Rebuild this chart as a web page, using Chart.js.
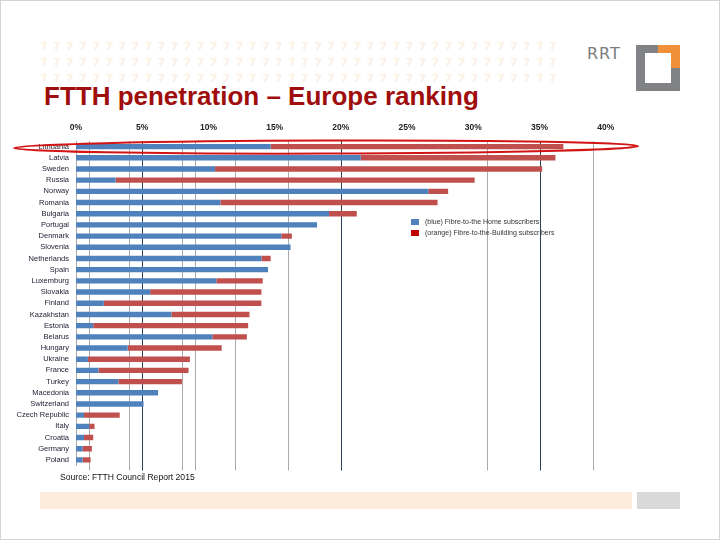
<!DOCTYPE html>
<html>
<head>
<meta charset="utf-8">
<script src="https://cdn.jsdelivr.net/npm/chart.js@4.4.1/dist/chart.umd.min.js"></script>
<style>
    html, body { margin: 0; padding: 0; }
    body { width: 720px; height: 540px; position: relative; background: #fff; overflow: hidden; font-family: "Liberation Sans", Arial, sans-serif; }
    #frame { position: absolute; left: 0; top: 0; width: 718px; height: 538px; border: 1px solid #d4d4d4; }
    .dots { position: absolute; left: 40px; font: bold 11px "DejaVu Sans", sans-serif; color: #fdf0e4; letter-spacing: 5.4px; white-space: nowrap; }
    #title { position: absolute; left: 44px; top: 81px; font: bold 26px "Liberation Sans Narrow", sans-serif; color: #a00d0d; white-space: nowrap; }
    #rrt { position: absolute; left: 587px; top: 44px; font: 16px "DejaVu Sans", sans-serif; color: #7b7d80; letter-spacing: 1px; }
    #logo { position: absolute; left: 636px; top: 45px; width: 44px; height: 46px; background: #808285; }
    #logo .or1 { position: absolute; left: 22px; top: 0; width: 22px; height: 23px; background: #f0913a; }
    #logo .in { position: absolute; left: 9px; top: 8px; width: 26px; height: 30px; background: #fff; }
    #wrap { position: absolute; left: 0; top: 115px; width: 660px; height: 362px; }
    #legend { position: absolute; left: 411px; top: 216px; font: 7px "Liberation Sans", sans-serif; color: #333; }
    #legend div { height: 11px; line-height: 11px; white-space: nowrap; }
    #legend span { display: inline-block; width: 8px; height: 6px; margin-right: 6px; vertical-align: -0.5px; }
    #source { position: absolute; left: 60px; top: 472px; font: 8.6px "Liberation Sans", sans-serif; color: #111; }
    #barL { position: absolute; left: 40px; top: 492px; width: 592px; height: 17px; background: #fdebdb; }
    #barR { position: absolute; left: 637px; top: 492px; width: 43px; height: 17px; background: #d9d9d9; }
</style>
</head>
<body>
<div id="frame"></div>
<div class="dots" style="top:40px">7777777777777777777777777777777777777777</div>
<div class="dots" style="top:56px">7777777777777777777777777777777777777777</div>
<div class="dots" style="top:72px">7777777777777777777777777777777777777777</div>
<div id="title">FTTH penetration – Europe ranking</div>
<div id="rrt">RRT</div>
<div id="logo"><div class="or1"></div><div class="in"></div></div>

<div id="wrap"><canvas id="ftth"></canvas></div>
<div id="legend"></div>
<div id="source">Source: FTTH Council Report 2015</div>
<div id="barL"></div>
<div id="barR"></div>

<script>
    // data (percent of households)
    const countries = ['Lithuania', 'Latvia', 'Sweden', 'Russia', 'Norway', 'Romania', 'Bulgaria', 'Portugal', 'Denmark',
        'Slovenia', 'Netherlands', 'Spain', 'Luxemburg', 'Slovakia', 'Finland', 'Kazakhstan', 'Estonia', 'Belarus',
        'Hungary', 'Ukraine', 'France', 'Turkey', 'Macedonia', 'Switzerland', 'Czech Republic', 'Italy', 'Croatia',
        'Germany', 'Poland'];
    const ftthHome = [14.7, 21.5, 10.5, 3.0, 26.6, 10.9, 19.1, 18.2, 15.5, 16.2, 14.0, 14.5, 10.6, 5.6, 2.1, 7.2, 1.3,
        10.3, 3.9, 0.9, 1.7, 3.2, 6.2, 5.1, 0.6, 1.0, 0.6, 0.5, 0.5];
    const ftthBuilding = [22.1, 14.7, 24.7, 27.1, 1.5, 16.4, 2.1, 0, 0.8, 0, 0.7, 0, 3.5, 8.4, 11.9, 5.9, 11.7,
        2.6, 7.1, 7.7, 6.8, 4.8, 0, 0, 2.7, 0.4, 0.7, 0.7, 0.6];
    const seriesNames = ['(blue) Fibre-to-the Home subscribers', '(orange) Fibre-to-the-Building subscribers'];
    const tickValues = [0, 5, 10, 15, 20, 25, 30, 35, 40];
    const darkGrid = [5, 20, 35];
    const lightGrid = [1, 4, 8, 9, 12, 16, 31, 39];

    const blue = '#4f81bd';
    const red = '#c0504d';

    // legend as html, to sit inside the plot like the original
    const legend = document.getElementById('legend');
    [blue, '#c00000'].forEach(function (c, i) {
        const row = document.createElement('div');
        row.innerHTML = '<span style="background:' + c + '"></span>' + seriesNames[i];
        legend.appendChild(row);
    });

    // odd grid of the pasted picture, drawn through the x scale
    const gridLines = {
        id: 'gridLines',
        beforeDatasetsDraw(chart) {
            const ctx = chart.ctx, x = chart.scales.x, a = chart.chartArea;
            ctx.save();
            ctx.lineWidth = 1;
            lightGrid.concat(darkGrid).forEach(function (v) {
                const px = Math.round(x.getPixelForValue(v)) + 0.5;
                ctx.strokeStyle = darkGrid.includes(v) ? '#2a3f58' : '#aaaaaa';
                ctx.beginPath();
                ctx.moveTo(px, a.top);
                ctx.lineTo(px, a.bottom + 5);
                ctx.stroke();
            });
            ctx.restore();
        }
    };

    // the red hand-drawn ring round the first row
    const ring = {
        id: 'ring',
        afterDraw(chart) {
            const ctx = chart.ctx, y = chart.scales.y;
            const cy = y.getPixelForValue(0) + 0.5;
            ctx.save();
            ctx.strokeStyle = '#d21414';
            ctx.lineWidth = 2;
            ctx.beginPath();
            ctx.ellipse(326, cy, 312, 6.5, -0.003, 0, Math.PI * 2);
            ctx.stroke();
            ctx.restore();
        }
    };

    const config = {
        type: 'bar',
        data: {
            labels: countries,
            datasets: [{
                label: seriesNames[0],
                data: ftthHome,
                backgroundColor: blue,
                barPercentage: 0.48,
                categoryPercentage: 1
            }, {
                label: seriesNames[1],
                data: ftthBuilding,
                backgroundColor: red,
                barPercentage: 0.48,
                categoryPercentage: 1
            }]
        },
        options: {
            indexAxis: 'y',
            responsive: true,
            maintainAspectRatio: false,
            animation: false,
            layout: { padding: { left: 0, right: 41, top: 0, bottom: 10 } },
            plugins: {
                legend: { display: false },
                tooltip: { enabled: false }
            },
            scales: {
                x: {
                    position: 'top',
                    stacked: true,
                    min: 0,
                    max: 41,
                    afterBuildTicks: function (s) { s.ticks = tickValues.map(function (v) { return { value: v }; }); },
                    afterFit: function (s) { s.height = 26; },
                    grid: { display: false, drawTicks: false },
                    border: { display: false },
                    ticks: {
                        padding: 8,
                        color: '#222',
                        font: { family: 'Liberation Sans', size: 8.5, weight: 'bold' },
                        callback: function (v) { return v + '%'; }
                    }
                },
                y: {
                    stacked: true,
                    afterFit: function (s) { s.width = 76; },
                    grid: { display: false, drawTicks: false },
                    border: { display: true, color: '#a8a8a8', width: 1 },
                    ticks: {
                        padding: 7,
                        color: '#1c1c30',
                        autoSkip: false,
                        font: { family: 'Liberation Sans', size: 7.5 }
                    }
                }
            }
        },
        plugins: [gridLines, ring]
    };

    const chartFtth = new Chart(document.getElementById('ftth'), config);
</script>
</body>
</html>
